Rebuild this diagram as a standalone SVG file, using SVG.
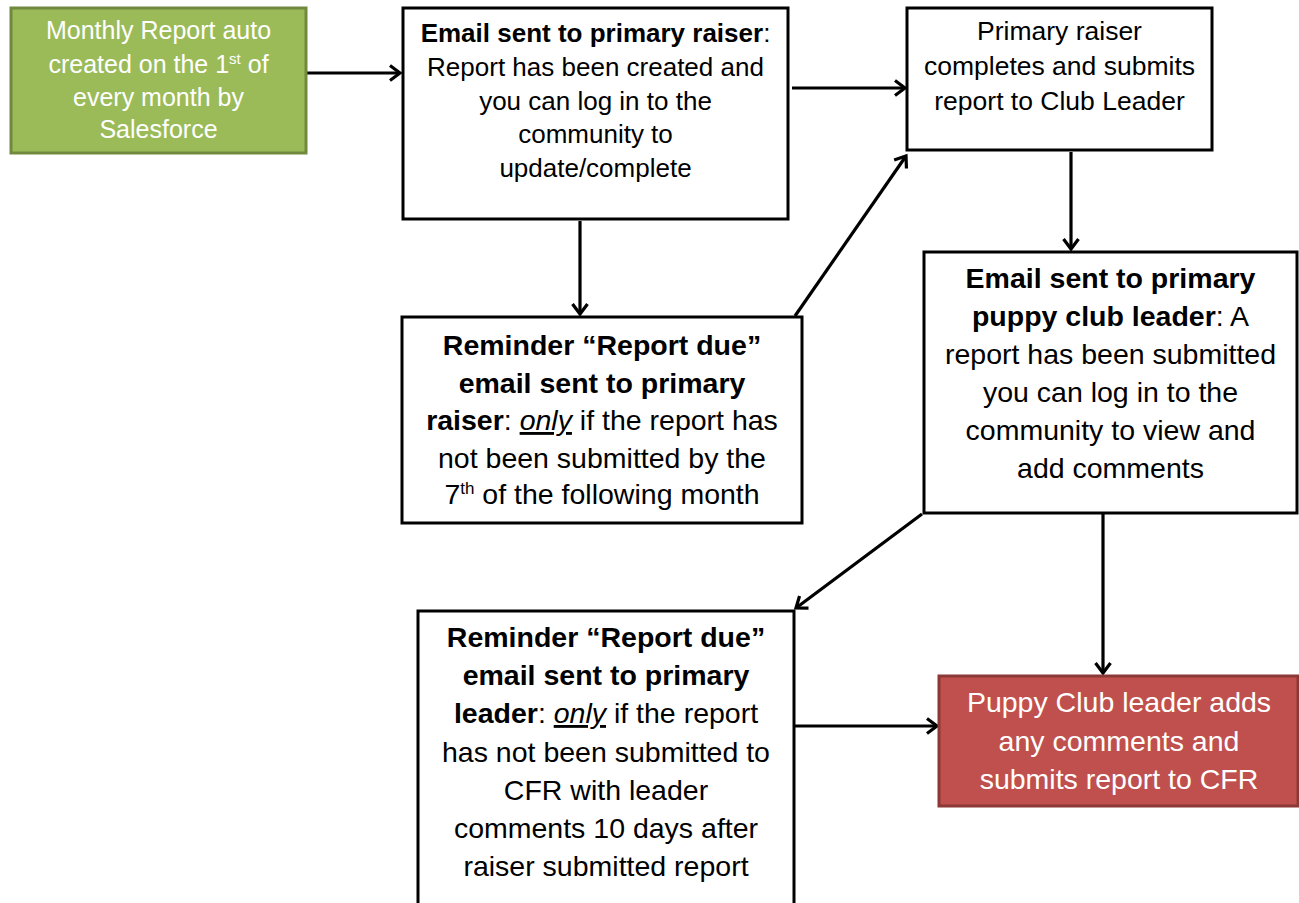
<svg xmlns="http://www.w3.org/2000/svg" width="1299" height="903" viewBox="0 0 1299 903">
<style>
.box{fill:#ffffff;stroke:#000000;stroke-width:3}
.t{font-family:"Liberation Sans",Arial,sans-serif;text-anchor:middle;fill:#000000}
.w{fill:#ffffff}
.b{font-weight:bold}
.s{font-size:26px}
.l{font-size:28.5px}
.conn{stroke:#000000;stroke-width:3.2;fill:none;marker-end:url(#arr)}
</style>
<defs>
<marker id="arr" viewBox="0 0 16 18" refX="12" refY="9" markerWidth="16" markerHeight="18" markerUnits="userSpaceOnUse" orient="auto">
<path d="M2,1.5 L12,9 L2,16.5" fill="none" stroke="#000000" stroke-width="3.2"/>
</marker>
</defs>
<rect width="1299" height="903" fill="#ffffff"/>

<g id="connectors">
<line class="conn" x1="306" y1="73" x2="400" y2="73"/>
<line class="conn" x1="792" y1="88" x2="905" y2="88"/>
<line class="conn" x1="580" y1="221" x2="580" y2="314"/>
<line class="conn" x1="795" y1="316" x2="906" y2="156"/>
<line class="conn" x1="1071" y1="152" x2="1071" y2="249"/>
<line class="conn" x1="922" y1="514" x2="796" y2="608"/>
<line class="conn" x1="1103" y1="514" x2="1103" y2="673"/>
<line class="conn" x1="795" y1="726" x2="937" y2="726"/>
</g>

<g id="n1">
<rect x="11" y="8" width="295" height="145" fill="#9bbb59" stroke="#71893f" stroke-width="3"/>
<text class="t w" font-size="25" x="158.5" y="39">Monthly Report auto</text>
<text class="t w" font-size="25" x="158.5" y="73">created on the 1<tspan font-size="15" dy="-9">st</tspan><tspan dy="9"> of</tspan></text>
<text class="t w" font-size="25" x="158.5" y="106">every month by</text>
<text class="t w" font-size="25" x="158.5" y="138">Salesforce</text>
</g>

<g id="n2">
<rect class="box" x="403" y="8" width="385" height="211"/>
<text class="t s" x="595.5" y="42"><tspan class="b">Email sent to primary raiser</tspan>:</text>
<text class="t s" x="595.5" y="76">Report has been created and</text>
<text class="t s" x="595.5" y="110">you can log in to the</text>
<text class="t s" x="595.5" y="143">community to</text>
<text class="t s" x="595.5" y="177">update/complete</text>
</g>

<g id="n3">
<rect class="box" x="907" y="8" width="305" height="142"/>
<text class="t" font-size="26.5" x="1059.5" y="40">Primary raiser</text>
<text class="t" font-size="26.5" x="1059.5" y="75">completes and submits</text>
<text class="t" font-size="26.5" x="1059.5" y="110">report to Club Leader</text>
</g>

<g id="n4">
<rect class="box" x="402" y="317" width="400" height="206"/>
<text class="t l b" x="602" y="355">Reminder “Report due”</text>
<text class="t l b" x="602" y="393">email sent to primary</text>
<text class="t l" x="602" y="430"><tspan class="b">raiser</tspan>: <tspan font-style="italic" text-decoration="underline">only</tspan> if the report has</text>
<text class="t l" x="602" y="468">not been submitted by the</text>
<text class="t l" x="602" y="504">7<tspan font-size="17" dy="-10">th</tspan><tspan dy="10"> of the following month</tspan></text>
</g>

<g id="n5">
<rect class="box" x="924" y="252" width="373" height="261"/>
<text class="t l b" x="1110.5" y="288">Email sent to primary</text>
<text class="t l" x="1110.5" y="326"><tspan class="b">puppy club leader</tspan>: A</text>
<text class="t l" x="1110.5" y="364">report has been submitted</text>
<text class="t l" x="1110.5" y="402">you can log in to the</text>
<text class="t l" x="1110.5" y="440">community to view and</text>
<text class="t l" x="1110.5" y="478">add comments</text>
</g>

<g id="n6">
<rect class="box" x="418" y="611" width="376" height="300"/>
<text class="t l b" x="606" y="647">Reminder “Report due”</text>
<text class="t l b" x="606" y="685">email sent to primary</text>
<text class="t l" x="606" y="723"><tspan class="b">leader</tspan>: <tspan font-style="italic" text-decoration="underline">only</tspan> if the report</text>
<text class="t l" x="606" y="762">has not been submitted to</text>
<text class="t l" x="606" y="800">CFR with leader</text>
<text class="t l" x="606" y="838">comments 10 days after</text>
<text class="t l" x="606" y="876">raiser submitted report</text>
</g>

<g id="n7">
<rect x="939" y="676" width="359" height="130" fill="#c0504d" stroke="#8c3836" stroke-width="3"/>
<text class="t l w" x="1119" y="712">Puppy Club leader adds</text>
<text class="t l w" x="1119" y="751">any comments and</text>
<text class="t l w" x="1119" y="789">submits report to CFR</text>
</g>
</svg>
